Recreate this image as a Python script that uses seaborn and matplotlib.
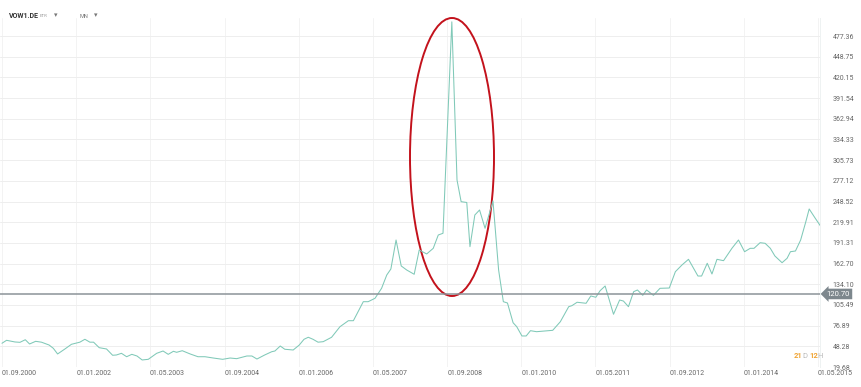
import pandas as pd
import matplotlib.pyplot as plt
import matplotlib.dates as mdates
from matplotlib.patches import Ellipse
import seaborn as sns

# VOW1.DE monthly prices
dates = [
    "2000-09-01", "2000-10-01", "2000-11-25", "2000-12-28", "2001-02-01", "2001-03-01",
    "2001-04-10", "2001-05-18", "2001-07-07", "2001-08-04", "2001-09-01", "2001-10-19",
    "2001-12-01", "2002-01-25", "2002-02-27", "2002-04-01", "2002-04-25", "2002-06-01",
    "2002-07-19", "2002-08-28", "2002-09-22", "2002-10-25", "2002-11-28", "2003-01-01",
    "2003-02-04", "2003-03-10", "2003-04-19", "2003-06-13", "2003-07-25", "2003-08-28",
    "2003-10-01", "2003-10-22", "2003-11-28", "2004-01-19", "2004-03-10", "2004-04-25",
    "2004-06-19", "2004-08-19", "2004-10-07", "2004-11-19", "2005-01-25", "2005-02-27",
    "2005-04-01", "2005-05-22", "2005-07-07", "2005-07-28", "2005-09-01", "2005-10-01",
    "2005-11-25", "2006-01-04", "2006-02-04", "2006-03-04", "2006-04-04", "2006-05-07",
    "2006-06-10", "2006-08-04", "2006-09-28", "2006-11-22", "2006-12-25", "2007-02-28",
    "2007-04-01", "2007-05-16", "2007-06-28", "2007-08-01", "2007-08-28", "2007-10-01",
    "2007-11-04", "2007-12-10", "2008-01-28", "2008-03-01", "2008-04-19", "2008-06-01",
    "2008-07-04", "2008-08-04", "2008-10-01", "2008-11-04", "2008-12-01", "2009-01-07",
    "2009-01-28", "2009-03-01", "2009-04-01", "2009-05-07", "2009-06-28", "2009-08-04",
    "2009-09-04", "2009-10-01", "2009-11-07", "2009-12-01", "2010-01-04", "2010-02-01",
    "2010-03-01", "2010-04-10", "2010-06-04", "2010-07-25", "2010-09-13", "2010-11-07",
    "2010-11-28", "2011-01-01", "2011-03-01", "2011-04-01", "2011-05-04", "2011-06-01",
    "2011-07-04", "2011-08-28", "2011-10-07", "2011-11-01", "2011-12-04", "2012-01-07",
    "2012-02-01", "2012-03-07", "2012-04-01", "2012-05-16", "2012-06-28", "2012-08-28",
    "2012-10-07", "2012-11-19", "2013-01-01", "2013-03-04", "2013-03-28", "2013-05-04",
    "2013-06-04", "2013-07-07", "2013-08-19", "2013-10-13", "2013-11-25", "2014-01-04",
    "2014-02-10", "2014-03-07", "2014-04-16", "2014-05-19", "2014-06-22", "2014-07-22",
    "2014-09-07", "2014-10-10", "2014-11-01", "2014-12-04", "2015-01-07", "2015-02-10",
    "2015-03-04", "2015-04-13", "2015-06-01",
]
prices = [
    52.5, 56.6, 54.3, 53.8, 57.4, 51.5,
    55.2, 54.0, 50.1, 45.5, 37.7, 44.6,
    51.1, 54.0, 58.0, 54.0, 54.0, 46.4,
    44.6, 35.9, 36.3, 38.6, 33.9, 37.2,
    34.9, 29.4, 30.3, 38.6, 41.8, 37.2,
    41.4, 40.0, 42.2, 37.7, 33.9, 33.9,
    32.1, 30.3, 32.1, 31.2, 34.9, 34.9,
    30.7, 36.3, 40.8, 41.8, 48.7, 44.2,
    43.2, 50.1, 58.0, 60.8, 58.0, 54.0,
    54.7, 60.8, 75.4, 83.7, 83.7, 110.0,
    110.0, 114.7, 128.5, 146.9, 155.2, 195.3,
    159.4, 153.8, 147.9, 181.5, 176.0, 183.8,
    202.2, 204.6, 497.0, 278.3, 248.3, 247.2,
    186.1, 229.9, 236.8, 211.5, 249.3, 153.8,
    110.0, 108.2, 80.9, 75.4, 62.6, 62.6,
    69.9, 68.5, 69.5, 70.4, 82.3, 103.1,
    104.5, 109.2, 107.8, 117.9, 116.1, 125.2,
    131.7, 92.6, 112.3, 110.9, 103.1, 123.8,
    126.2, 118.8, 126.2, 118.8, 128.5, 128.9,
    151.5, 160.7, 168.6, 145.5, 145.5, 163.1,
    148.3, 168.6, 166.7, 183.8, 195.3, 179.1,
    183.8, 183.8, 191.6, 190.7, 183.8, 173.2,
    163.9, 170.0, 179.1, 180.1, 195.3, 220.6,
    238.2, 225.3, 210.1,
]

y_ticks = [19.68, 48.28, 76.89, 105.49, 134.10, 162.70, 191.31, 219.91, 248.52,
           277.12, 305.73, 334.33, 362.94, 391.54, 420.15, 448.75, 477.36]
x_ticks = ["2000-09-01", "2002-01-01", "2003-05-01", "2004-09-01", "2006-01-01",
           "2007-05-01", "2008-09-01", "2010-01-01", "2011-05-01", "2012-09-01",
           "2014-01-01", "2015-05-01"]
last_price = 120.70

df = pd.DataFrame({"date": pd.to_datetime(dates), "price": prices})

sns.set_style("white")
plt.rcParams["font.family"] = ["Roboto", "DejaVu Sans"]

fig = plt.figure(figsize=(8.61, 3.87), dpi=100)
ax = fig.add_axes([0, 1 - 367 / 387, 820 / 861, 349 / 387])

sns.lineplot(data=df, x="date", y="price", ax=ax, color="#80c9b8", linewidth=0.75)

ax.set_ylim(19.68, 502.3)
ax.set_xlim(pd.Timestamp("2000-08-19"), pd.Timestamp("2015-05-14"))

# y axis on the right
ax.yaxis.tick_right()
ax.set_yticks(y_ticks)
ax.set_yticklabels([f"{v:.2f}" for v in y_ticks])
ax.tick_params(axis="y", length=0, pad=9, labelsize=5, labelcolor="#666666")

ax.set_xticks(pd.to_datetime(x_ticks))
ax.xaxis.set_major_formatter(mdates.DateFormatter("%d.%m.%Y"))
ax.tick_params(axis="x", length=0, pad=2, labelsize=5, labelcolor="#666666")
for lbl in ax.get_xticklabels():
    lbl.set_ha("left")

ax.grid(True, axis="y", color="#eeeeee", linewidth=0.7)
ax.grid(True, axis="x", color="#f3f3f3", linewidth=0.7)
ax.set_xlabel("")
ax.set_ylabel("")
for side in ["left", "top", "bottom"]:
    ax.spines[side].set_visible(False)
ax.spines["right"].set_color("#eef2f2")
ax.spines["right"].set_linewidth(0.7)

# current price line and tag
ax.axhline(last_price, color="#8c9398", linewidth=1.1)
ax.text(1.008, last_price, f"{last_price:.2f}", transform=ax.get_yaxis_transform(),
        ha="left", va="center", fontsize=5.5, color="white",
        bbox=dict(boxstyle="larrow,pad=0.3", fc="#7d878d", ec="none"))

# red ellipse highlight
ax.add_patch(Ellipse((452 / 820, 0.6017), 84 / 820, 0.7966, transform=ax.transAxes,
                     fill=False, edgecolor="#c3121c", linewidth=1.4, clip_on=False))

# header
hy = 1 - 16 / 387
fig.text(9 / 861, hy, "VOW1.DE", fontsize=5, fontweight="bold", color="#333333", va="center")
fig.text(40 / 861, hy, "ETR", fontsize=3.2, color="#999999", va="center")
fig.text(54 / 861, hy, "▾", fontsize=5, color="#777777", va="center")
fig.text(80 / 861, hy, "MN", fontsize=4, color="#777777", va="center")
fig.text(94 / 861, hy, "▾", fontsize=5, color="#777777", va="center")

# countdown
cy = 1 - 356 / 387
fig.text(794 / 861, cy, "21", fontsize=5.5, color="#f0a434", fontweight="bold", va="center")
fig.text(802 / 861, cy, "D", fontsize=5.5, color="#bbbbbb", va="center")
fig.text(809 / 861, cy, "12", fontsize=5.5, color="#f0a434", fontweight="bold", va="center")
fig.text(817 / 861, cy, "H", fontsize=5.5, color="#bbbbbb", va="center")

fig.savefig("out.png", dpi=100)
